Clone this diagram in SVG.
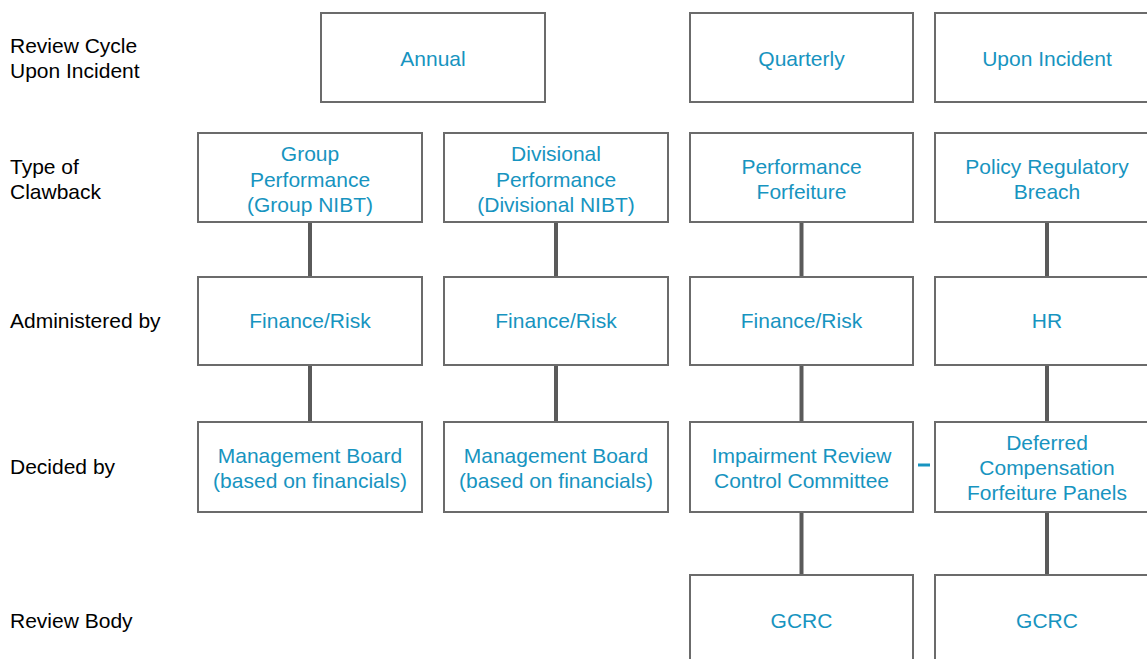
<svg xmlns="http://www.w3.org/2000/svg" width="1147" height="659" viewBox="0 0 1147 659">
<style>
.box{fill:#fff;stroke:#6b6b6b;stroke-width:2}
.t{font-family:"Liberation Sans",Arial,sans-serif;font-size:21px;fill:#1794c0;text-anchor:middle}
.lbl{font-family:"Liberation Sans",Arial,sans-serif;font-size:21px;fill:#000}
.c{stroke:#5a5a5a;stroke-width:4;fill:none}
</style>
<rect width="1147" height="659" fill="#fff"/>
<g id="labels">
<text class="lbl" x="10" y="53">Review Cycle</text>
<text class="lbl" x="10" y="78">Upon Incident</text>
<text class="lbl" x="10" y="174">Type of</text>
<text class="lbl" x="10" y="199">Clawback</text>
<text class="lbl" x="10" y="328">Administered by</text>
<text class="lbl" x="10" y="474">Decided by</text>
<text class="lbl" x="10" y="628">Review Body</text>
</g>
<g id="connectors">
<line class="c" x1="310" y1="222" x2="310" y2="277"/>
<line class="c" x1="310" y1="365" x2="310" y2="422"/>
<line class="c" x1="556" y1="222" x2="556" y2="277"/>
<line class="c" x1="556" y1="365" x2="556" y2="422"/>
<line class="c" x1="801.5" y1="222" x2="801.5" y2="277"/>
<line class="c" x1="801.5" y1="365" x2="801.5" y2="422"/>
<line class="c" x1="801.5" y1="512" x2="801.5" y2="575"/>
<line class="c" x1="1047" y1="222" x2="1047" y2="277"/>
<line class="c" x1="1047" y1="365" x2="1047" y2="422"/>
<line class="c" x1="1047" y1="512" x2="1047" y2="575"/>
<line x1="918" y1="465" x2="930" y2="465" stroke="#1794c0" stroke-width="3"/>
</g>
<g id="annual"><rect class="box" x="321" y="13" width="224" height="89"/><text class="t" x="433" y="66">Annual</text></g>
<g id="quarterly"><rect class="box" x="690" y="13" width="223" height="89"/><text class="t" x="801.5" y="66">Quarterly</text></g>
<g id="upon-incident"><rect class="box" x="935" y="13" width="224" height="89"/><text class="t" x="1047" y="66">Upon Incident</text></g>
<g id="group-perf"><rect class="box" x="198" y="133" width="224" height="89"/><text class="t" x="310" y="161">Group</text><text class="t" x="310" y="187">Performance</text><text class="t" x="310" y="212">(Group NIBT)</text></g>
<g id="div-perf"><rect class="box" x="444" y="133" width="224" height="89"/><text class="t" x="556" y="161">Divisional</text><text class="t" x="556" y="187">Performance</text><text class="t" x="556" y="212">(Divisional NIBT)</text></g>
<g id="perf-forf"><rect class="box" x="690" y="133" width="223" height="89"/><text class="t" x="801.5" y="174">Performance</text><text class="t" x="801.5" y="199">Forfeiture</text></g>
<g id="policy"><rect class="box" x="935" y="133" width="224" height="89"/><text class="t" x="1047" y="174">Policy Regulatory</text><text class="t" x="1047" y="199">Breach</text></g>
<g id="fin1"><rect class="box" x="198" y="277" width="224" height="88"/><text class="t" x="310" y="328">Finance/Risk</text></g>
<g id="fin2"><rect class="box" x="444" y="277" width="224" height="88"/><text class="t" x="556" y="328">Finance/Risk</text></g>
<g id="fin3"><rect class="box" x="690" y="277" width="223" height="88"/><text class="t" x="801.5" y="328">Finance/Risk</text></g>
<g id="hr"><rect class="box" x="935" y="277" width="224" height="88"/><text class="t" x="1047" y="328">HR</text></g>
<g id="mb1"><rect class="box" x="198" y="422" width="224" height="90"/><text class="t" x="310" y="463">Management Board</text><text class="t" x="310" y="488">(based on financials)</text></g>
<g id="mb2"><rect class="box" x="444" y="422" width="224" height="90"/><text class="t" x="556" y="463">Management Board</text><text class="t" x="556" y="488">(based on financials)</text></g>
<g id="irc"><rect class="box" x="690" y="422" width="223" height="90"/><text class="t" x="801.5" y="463">Impairment Review</text><text class="t" x="801.5" y="488">Control Committee</text></g>
<g id="dcfp"><rect class="box" x="935" y="422" width="224" height="90"/><text class="t" x="1047" y="450">Deferred</text><text class="t" x="1047" y="475">Compensation</text><text class="t" x="1047" y="500">Forfeiture Panels</text></g>
<g id="gcrc1"><rect class="box" x="690" y="575" width="223" height="100"/><text class="t" x="801.5" y="628">GCRC</text></g>
<g id="gcrc2"><rect class="box" x="935" y="575" width="224" height="100"/><text class="t" x="1047" y="628">GCRC</text></g>
</svg>
